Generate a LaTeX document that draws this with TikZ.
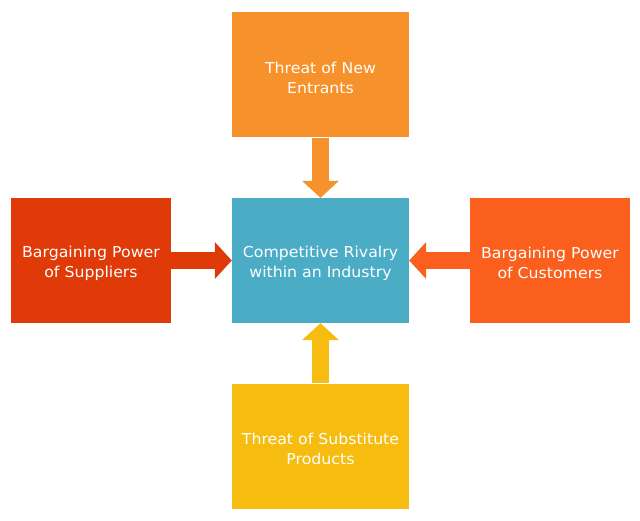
\documentclass[tikz,border=0pt]{standalone}
\usepackage{fontspec}
\setmainfont{DejaVu Sans}[FakeStretch=1.05]
\usepackage{xcolor}
\usetikzlibrary{arrows.meta}

\definecolor{entrantsCol}{HTML}{F7912B}
\definecolor{suppliersCol}{HTML}{E03A08}
\definecolor{rivalryCol}{HTML}{4BACC6}
\definecolor{customersCol}{HTML}{FA5F1E}
\definecolor{substituteCol}{HTML}{F7BC10}

\begin{document}
\begin{tikzpicture}[x=1pt, y=1pt,
	force/.style={rectangle, inner sep=0pt, minimum height=125pt, text=white,
		font=\fontsize{15}{20}\selectfont, align=center, text height=37pt},
	push/.style={line width=17pt, -{Triangle[width=36pt, length=17pt]}}]
	\useasboundingbox (0,0) rectangle (640,520);

	% Define the nodes with specific positions
	\node[force, fill=entrantsCol, minimum width=177pt] (entrants) at (320.5, 445) {Threat of New\\Entrants};
	\node[force, fill=suppliersCol, minimum width=160pt] (suppliers) at (91, 259.5) {Bargaining Power\\of Suppliers};
	\node[force, fill=rivalryCol, minimum width=177pt] (rivalry) at (320.5, 259.5) {Competitive Rivalry\\within an Industry};
	\node[force, fill=customersCol, minimum width=160pt] (customers) at (550, 259.5) {Bargaining Power\\of Customers};
	\node[force, fill=substituteCol, minimum width=177pt] (substitute) at (320.5, 74) {Threat of Substitute\\Products};

	% Draw the arrows towards the rivalry box
	\draw[push, entrantsCol] (entrants) -- (rivalry);
	\draw[push, suppliersCol] (suppliers) -- (rivalry);
	\draw[push, customersCol] (customers) -- (rivalry);
	\draw[push, substituteCol] (substitute) -- (rivalry);
\end{tikzpicture}
\end{document}
